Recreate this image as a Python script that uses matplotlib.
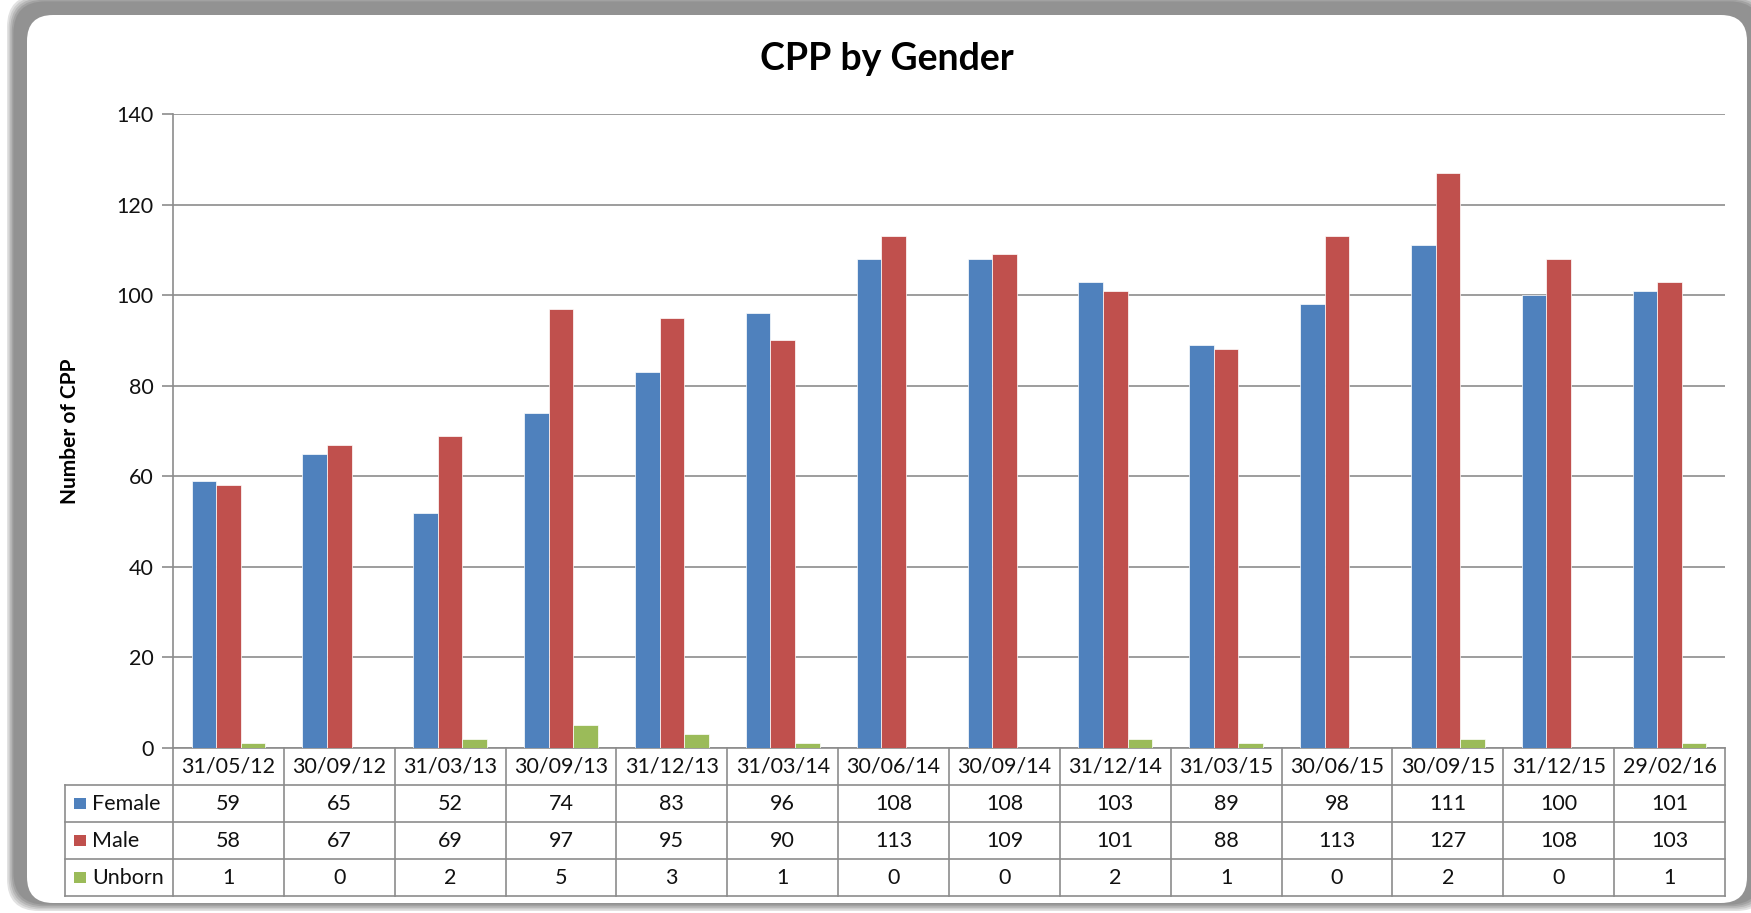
import numpy as np
import matplotlib
matplotlib.use("Agg")
import matplotlib.pyplot as plt
from matplotlib.patches import FancyBboxPatch, Rectangle

plt.rcParams['font.family'] = ['Lato', 'DejaVu Sans']

dates = ["31/05/12", "30/09/12", "31/03/13", "30/09/13", "31/12/13", "31/03/14", "30/06/14",
         "30/09/14", "31/12/14", "31/03/15", "30/06/15", "30/09/15", "31/12/15", "29/02/16"]
female = [59, 65, 52, 74, 83, 96, 108, 108, 103, 89, 98, 111, 100, 101]
male = [58, 67, 69, 97, 95, 90, 113, 109, 101, 88, 113, 127, 108, 103]
unborn = [1, 0, 2, 5, 3, 1, 0, 0, 2, 1, 0, 2, 0, 1]
series_names = ["Female", "Male", "Unborn"]
colors = ["#4F81BD", "#C0504D", "#9BBB59"]

W, H = 1751, 913
fig = plt.figure(figsize=(W / 100, H / 100), dpi=100)

# background frame (rounded chart area with grey shadow)
bg = fig.add_axes([0, 0, 1, 1])
bg.set_xlim(0, W)
bg.set_ylim(H, 0)
bg.axis("off")
for i, c in enumerate(["#e2e2e2", "#cccccc", "#b6b6b6", "#a2a2a2", "#929292"]):
    d = 8 - 1.6 * i
    bg.add_patch(FancyBboxPatch((27 - d - 12, 15 - d - 12), 1760 - 27 + 2 * d + 12, 903 - 15 + 2 * d + 12,
                                boxstyle="round,pad=0,rounding_size=32", fc=c, ec="none"))
bg.add_patch(FancyBboxPatch((27, 15), 1747 - 27, 903 - 15,
                            boxstyle="round,pad=0,rounding_size=26", fc="white", ec="none"))

# main plot area
left, right, top, bottom = 173, 1725, 114, 748
ax = fig.add_axes([left / W, 1 - bottom / H, (right - left) / W, (bottom - top) / H])
x = np.arange(len(dates))
bw = 0.222
for k, (vals, c) in enumerate(zip([female, male, unborn], colors)):
    ax.bar(x + (k - 1) * bw, vals, width=bw, color=c, edgecolor="#ffffff", linewidth=0.5, zorder=3)

ax.set_xlim(-0.5, len(dates) - 0.5)
ax.set_ylim(0, 140)
ax.set_yticks(np.arange(0, 141, 20))
ax.set_xticks([])
ax.yaxis.grid(True, color="#8c8c8c", linewidth=1.2)
ax.set_axisbelow(True)
for s in ["top", "right"]:
    ax.spines[s].set_visible(False)
for s in ["left", "bottom"]:
    ax.spines[s].set_color("#8c8c8c")
    ax.spines[s].set_linewidth(1.2)
ax.tick_params(axis="y", length=8, width=1.2, color="#8c8c8c", labelsize=15.5, pad=6, labelcolor="#111111")
ax.set_ylabel("Number of CPP", fontsize=15, fontweight="bold", labelpad=26)

fig.text(887 / W, 1 - 59 / H, "CPP by Gender", ha="center", va="center", fontsize=27, fontweight="bold")

# data table below
tab_bottom = 896
tax = fig.add_axes([left / W, 1 - tab_bottom / H, (right - left) / W, (tab_bottom - bottom) / H])
tax.set_xlim(-0.5, len(dates) - 0.5)
tax.set_ylim(4, 0)
tax.axis("off")
unit = (right - left) / len(dates)
leg_left = -0.5 - (left - 65) / unit
lc = "#8c8c8c"
lw = 1.2
# horizontal lines
for r in [1, 2, 3, 4]:
    tax.plot([leg_left, len(dates) - 0.5], [r, r], color=lc, lw=lw, clip_on=False)
# vertical lines
for i in range(len(dates) + 1):
    tax.plot([i - 0.5, i - 0.5], [0, 4], color=lc, lw=lw, clip_on=False)
tax.plot([leg_left, leg_left], [1, 4], color=lc, lw=lw, clip_on=False)

for i, d in enumerate(dates):
    tax.text(i, 0.5, d, ha="center", va="center", fontsize=15.5, color="#111111")
for r, (name, vals, c) in enumerate(zip(series_names, [female, male, unborn], colors)):
    y = r + 1.5
    for i, v in enumerate(vals):
        tax.text(i, y, str(v), ha="center", va="center", fontsize=15.5, color="#111111")
    tax.add_patch(Rectangle((leg_left + 9 / unit, y - 0.16), 12 / unit, 0.32, fc=c, ec="none", clip_on=False))
    tax.text(leg_left + 27 / unit, y, name, ha="left", va="center", fontsize=15.5, color="#111111")

fig.savefig("out.png", dpi=100)
